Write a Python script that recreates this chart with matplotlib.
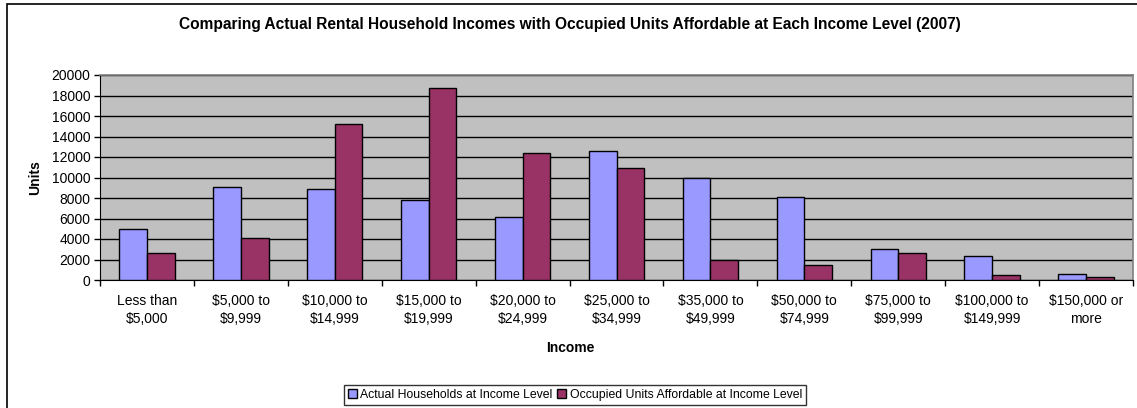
import matplotlib.pyplot as plt
import numpy as np
from matplotlib.patches import Rectangle

plt.rcParams['font.family'] = ['Liberation Sans', 'DejaVu Sans']

# income brackets and unit counts
categories = ['Less than\n$5,000', '$5,000 to\n$9,999', '$10,000 to\n$14,999',
              '$15,000 to\n$19,999', '$20,000 to\n$24,999', '$25,000 to\n$34,999',
              '$35,000 to\n$49,999', '$50,000 to\n$74,999', '$75,000 to\n$99,999',
              '$100,000 to\n$149,999', '$150,000 or\nmore']
households = [5000, 9040, 8880, 7770, 6150, 12590, 9920, 8060, 2990, 2370, 620]
affordable = [2630, 4100, 15220, 18700, 12420, 10930, 1950, 1460, 2630, 490, 330]

W, H = 1137, 408
fig = plt.figure(figsize=(W / 100, H / 100), dpi=100)
fig.patch.set_facecolor('white')

# chart frame (runs off the right and bottom edge)
fig.patches.append(Rectangle((7 / W, -0.2), 1.2, 1.2 - 4 / H,
                             transform=fig.transFigure, fill=False,
                             edgecolor='black', linewidth=1.2))

ax = fig.add_axes([100 / W, 1 - 280 / H, 1033 / W, 205 / H])
ax.set_facecolor('#C0C0C0')

x = np.arange(len(categories))
bw = 0.295
ax.bar(x - bw / 2, households, bw, color='#9999FF', edgecolor='black',
       linewidth=1, label='Actual Households at Income Level', zorder=3)
ax.bar(x + bw / 2, affordable, bw, color='#993366', edgecolor='black',
       linewidth=1, label='Occupied Units Affordable at Income Level', zorder=3)

ax.set_xlim(-0.5, len(categories) - 0.5)
ax.set_ylim(0, 20000)
ax.set_yticks(range(0, 20001, 2000))
ax.yaxis.grid(True, color='black', linewidth=1, zorder=1)
ax.set_axisbelow(True)

ax.set_xticks(x)
ax.set_xticklabels(categories, fontsize=10, linespacing=1.35)
ax.set_xticks(np.arange(-0.5, len(categories), 1), minor=True)
ax.tick_params(axis='x', which='major', length=0, pad=10)
ax.tick_params(axis='x', which='minor', length=4, width=1, direction='out')
ax.tick_params(axis='y', length=4, width=1, labelsize=10, pad=3)

for s in ['top', 'right']:
    ax.spines[s].set_color('#808080')
    ax.spines[s].set_linewidth(1.2)
ax.spines['left'].set_color('black')
ax.spines['bottom'].set_color('black')

ax.set_ylabel('Units', fontsize=10, fontweight='bold')
ax.yaxis.set_label_coords(-58 / 1033, 0.5)
ax.set_xlabel('Income', fontsize=10, fontweight='bold')
ax.xaxis.set_label_coords(470 / 1033, -61 / 205)

fig.text(570 / W, 1 - 25 / H,
         'Comparing Actual Rental Household Incomes with Occupied Units Affordable at Each Income Level (2007)',
         ha='center', va='center', fontsize=11.2, fontweight='bold')

leg = fig.legend(loc='center', bbox_to_anchor=(575 / W, 1 - 395 / H), ncol=2,
                 fontsize=8.8, frameon=True, fancybox=False, edgecolor='black',
                 handlelength=0.7, handleheight=0.7, handletextpad=0.3,
                 columnspacing=0.4, borderpad=0.3, borderaxespad=0)
leg.get_frame().set_linewidth(1)

fig.savefig('out.png', dpi=100)
